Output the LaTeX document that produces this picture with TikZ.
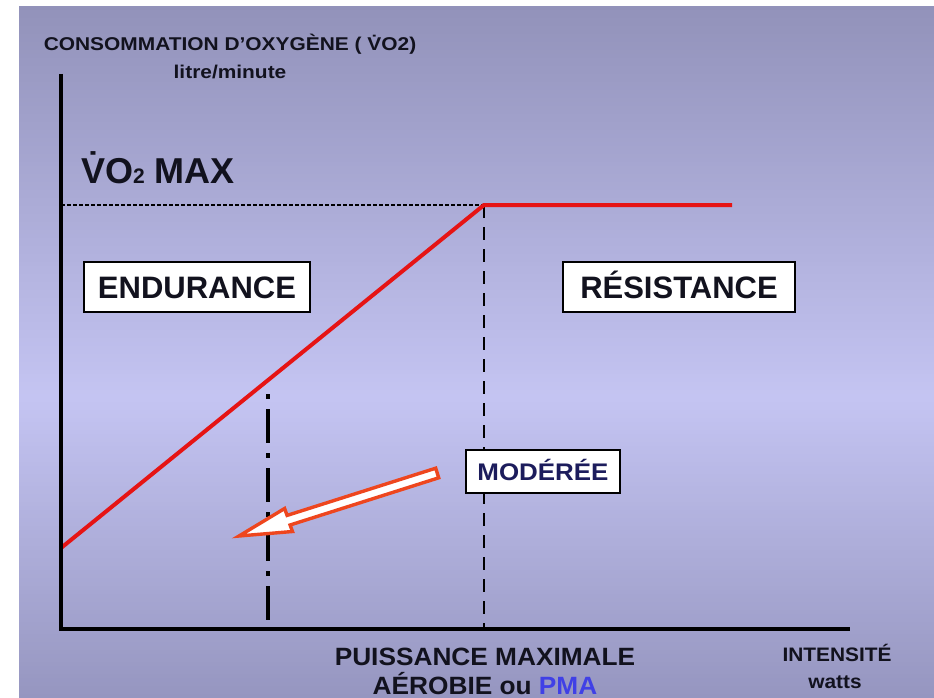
\documentclass[tikz,border=0pt]{standalone}
\usepackage{fontspec}
\setmainfont{Liberation Sans}
\definecolor{bgtop}{RGB}{146,146,186}
\definecolor{bgmid}{RGB}{196,196,242}
\definecolor{bgbot}{RGB}{150,150,192}
\definecolor{curvered}{RGB}{230,20,20}
\definecolor{arrowred}{RGB}{238,70,30}
\definecolor{navytext}{RGB}{28,28,92}
\definecolor{pmablue}{RGB}{64,64,230}
\definecolor{inktext}{RGB}{18,18,30}
\begin{document}
\begin{tikzpicture}[x=1pt,y=-1pt,
  axisline/.style={line width=4pt, black, line join=miter},
  curve/.style={line width=4pt, curvered, line join=miter},
  dotline/.style={line width=2.2pt, black, dash pattern=on 4pt off 2pt},
  dashline/.style={line width=2.6pt, black, dash pattern=on 13pt off 9pt},
  dashdotline/.style={line width=3.4pt, black, dash pattern=on 34pt off 10pt on 5pt off 10pt, dash phase=40pt},
  zonebox/.style={draw=black, line width=1.4pt, fill=white, inner sep=0pt, text=inktext,
     font=\fontsize{31}{31}\selectfont\bfseries, text height=22pt, text depth=0pt},
  txt/.style={inner sep=0pt, anchor=base, text=inktext},
  hollowarrow/.style={draw=arrowred, line width=3.4pt, fill=white, line join=miter}]
\useasboundingbox (0,0) rectangle (934,698);
\fill[white] (0,0) rectangle (934,698);
% background gradient (strips)
\foreach \i in {0,...,97}{
  \pgfmathsetmacro{\p}{\i*100/97}
  \pgfmathsetmacro{\ya}{6+\i*4}
  \fill[bgmid!\p!bgtop] (19,\ya) rectangle (934,\ya+4.6);
}
\foreach \i in {0,...,74}{
  \pgfmathsetmacro{\p}{\i*100/74}
  \pgfmathsetmacro{\ya}{398+\i*4}
  \fill[bgbot!\p!bgmid] (19,\ya) rectangle (934,\ya+4.6);
}
\fill[white] (0,0) rectangle (19,698);

% coordinates
\coordinate (ytop) at (61,74);
\coordinate (origin) at (61,629);
\coordinate (xend) at (850,629);
\coordinate (ystart) at (61,548);
\coordinate (pma) at (484,205);
\coordinate (plateau) at (732,205);
\coordinate (pmafoot) at (484,629);
\coordinate (vmaxaxis) at (61,205);
\coordinate (modtop) at (268,390);
\coordinate (modfoot) at (268,629);

% guide lines
\draw[dotline] (vmaxaxis) -- (pma);
\draw[dashline] (pma) -- (pmafoot);
\draw[dashdotline] (modtop) -- (modfoot);

% curve
\draw[curve] (ystart) -- (pma) -- (plateau);

% axes
\draw[axisline] (ytop) -- (origin) -- (xend);

% boxes
\node[zonebox, minimum width=226pt, minimum height=50pt] (endurance) at (197,287) {ENDURANCE};
\node[zonebox, minimum width=232pt, minimum height=50pt] (resistance) at (679,287) {RÉSISTANCE};
\node[zonebox, font=\fontsize{24}{24}\selectfont\bfseries, text=navytext, text height=17pt,
      minimum width=154pt, minimum height=43pt] (moderee) at (543,471.5) {\scalebox{1.08}[1]{MODÉRÉE}};

% hollow arrow
\draw[hollowarrow] (239,536) -- (292.5,531.5) -- (290.1,525.0) -- (438.7,477.8)
   -- (435.7,468.2) -- (287.1,515.4) -- (284.6,508.5) -- cycle;

% texts
\node[txt, font=\fontsize{18.5}{18.5}\selectfont\bfseries] (ytitle) at (230,51) {\scalebox{1.13}[1]{CONSOMMATION D'OXYGÈNE ( \.{V}O2)}};
\node[txt, font=\fontsize{18.5}{18.5}\selectfont\bfseries] (yunit) at (230,79) {\scalebox{1.13}[1]{litre/minute}};
\node[txt, anchor=base west, font=\fontsize{36}{36}\selectfont\bfseries] (vomax) at (81,183) {\.{V}O{\fontsize{21}{21}\selectfont 2} MAX};
\node[txt, font=\fontsize{25}{25}\selectfont\bfseries] (pmaline1) at (485,665) {\scalebox{1.05}[1]{PUISSANCE MAXIMALE}};
\node[txt, font=\fontsize{25}{25}\selectfont\bfseries] (pmaline2) at (485,694) {\scalebox{1.05}[1]{AÉROBIE ou \textcolor{pmablue}{PMA}}};
\node[txt, font=\fontsize{19.5}{19.5}\selectfont\bfseries] (xtitle) at (837,661) {\scalebox{1.07}[1]{INTENSITÉ}};
\node[txt, font=\fontsize{19.5}{19.5}\selectfont\bfseries] (xunit) at (835,688) {\scalebox{1.07}[1]{watts}};
\end{tikzpicture}
\end{document}
